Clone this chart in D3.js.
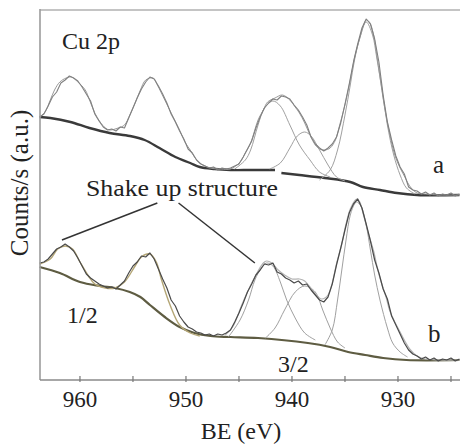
<!DOCTYPE html>
<html><head><meta charset="utf-8">
<script src="https://cdn.jsdelivr.net/npm/d3@7/dist/d3.min.js"></script>
<style>body{margin:0;background:#fff}svg{display:block}text{font-family:"Liberation Serif","Times New Roman",serif;fill:#222}</style>
</head><body><svg id="c" width="460" height="445"></svg>
<script>
// ---- data: [binding energy (eV), counts (a.u.)] ----
const xTicksMajor = [960, 950, 940, 930];
const xTicksMinor = [955, 945, 935, 925];

const rawA = [[963.8,263],[963.4,266],[963.0,274],[962.6,283],[962.2,288],[961.8,297],[961.4,300],[961.0,304],[960.6,302],[960.2,299],[959.8,293],[959.4,286],[959.0,279],[958.6,266],[958.2,259],[957.8,253],[957.4,250],[957.0,251],[956.6,249],[956.2,253],[955.8,252],[955.4,262],[955.0,272],[954.6,282],[954.2,291],[953.8,298],[953.4,303],[953.0,301],[952.6,294],[952.2,286],[951.8,277],[951.4,266],[951.0,258],[950.6,249],[950.2,241],[949.8,231],[949.4,227],[949.0,220],[948.6,216],[948.2,214],[947.8,212],[947.4,213],[947.0,210],[946.6,212],[946.2,211],[945.8,212],[945.4,214],[945.0,216],[944.6,223],[944.2,231],[943.8,239],[943.4,252],[943.0,263],[942.6,272],[942.2,277],[941.8,281],[941.4,280],[941.0,284],[940.6,283],[940.2,281],[939.8,275],[939.4,270],[939.0,263],[938.6,255],[938.2,243],[937.8,236],[937.4,232],[937.0,229],[936.6,232],[936.2,236],[935.8,243],[935.4,257],[935.0,276],[934.6,296],[934.2,318],[933.8,336],[933.4,352],[933.0,361],[932.6,356],[932.2,341],[931.8,318],[931.4,285],[931.0,258],[930.6,240],[930.2,224],[929.8,213],[929.4,206],[929.0,193],[928.6,190],[928.2,189],[927.8,186],[927.4,188],[927.0,185],[926.6,187],[926.2,184],[925.8,186],[925.4,185],[925.0,187],[924.6,184],[924.2,186]];
const envA = [[963.8,263],[963.3,268],[962.8,280],[962.4,290],[961.9,298],[961.3,302],[960.8,303],[960.2,298],[959.5,290],[959.1,280],[958.6,267],[958.1,258],[957.6,252],[957.2,250],[956.4,252],[955.8,255],[955.3,265],[954.8,277],[954.3,290],[953.8,300],[953.1,302],[952.7,295],[952.0,280],[951.3,265],[950.6,250],[950.1,238],[949.6,230],[949.2,223],[948.7,217],[947.7,212],[946.7,211],[945.8,211],[944.9,218],[944.4,227],[943.9,237],[943.2,260],[942.7,270],[942.3,278],[941.6,282],[940.9,285],[940.2,280],[939.7,273],[939.3,267],[938.8,257],[938.3,245],[937.8,235],[937.4,231],[936.9,230],[936.4,232],[935.9,240],[935.5,255],[935.0,275],[934.5,300],[934.1,322],[933.6,342],[933.2,356],[933.0,360],[932.7,358],[932.3,345],[932.0,325],[931.7,303],[931.3,275],[930.8,247],[930.3,225],[929.8,212],[929.3,202],[928.9,194],[928.2,187],[927.4,186],[926.0,185],[924.2,185]];
const bgA1 = [[963.8,263],[962.8,262],[960.9,258],[959.1,252],[957.2,247],[955.3,244],[953.9,240],[952.5,232],[951.0,223],[949.6,217],[948.7,213],[947.3,211],[945.8,210],[943.9,210],[941.6,210]];
const bgA2 = [[941.0,207],[939.3,205],[936.9,202],[934.5,198],[933.3,193],[931.7,190],[930.1,187],[928.2,185],[924.2,185]];
const compA1 = [[945.4,211],[944.4,220],[943.9,230],[943.2,255],[942.6,272],[941.8,279],[941.1,274],[940.2,255],[939.3,235],[938.3,220],[937.4,208],[936.4,203]];
const compA2 = [[942.1,211],[941.1,217],[940.2,232],[939.5,244],[938.8,248],[938.2,244],[937.4,230],[936.6,215],[935.8,203],[935.0,199]];
const compA3 = [[937.4,200],[936.4,210],[935.7,230],[935.0,265],[934.5,295],[934.1,320],[933.6,342],[933.0,358],[932.4,345],[932.0,322],[931.5,290],[931.0,255],[930.4,225],[929.8,205],[929.2,192],[928.4,186]];

const rawB = [[963.8,117],[963.4,118],[963.0,121],[962.6,126],[962.2,131],[961.8,133],[961.4,136],[961.0,133],[960.6,129],[960.2,122],[959.8,114],[959.4,106],[959.0,102],[958.6,99],[958.2,96],[957.8,94],[957.4,92],[957.0,93],[956.6,91],[956.2,95],[955.8,99],[955.4,107],[955.0,114],[954.6,118],[954.2,124],[953.8,123],[953.4,127],[953.0,121],[952.6,111],[952.2,101],[951.8,92],[951.4,80],[951.0,74],[950.6,64],[950.2,58],[949.8,53],[949.4,51],[949.0,48],[948.6,47],[948.2,45],[947.8,46],[947.4,44],[947.0,46],[946.6,45],[946.2,47],[945.8,50],[945.4,58],[945.0,67],[944.6,77],[944.2,88],[943.8,96],[943.4,105],[943.0,110],[942.6,116],[942.2,115],[941.8,117],[941.4,108],[941.0,106],[940.6,102],[940.2,100],[939.8,97],[939.4,99],[939.0,95],[938.6,96],[938.2,90],[937.8,85],[937.4,80],[937.0,78],[936.6,83],[936.2,96],[935.8,115],[935.4,132],[935.0,150],[934.6,167],[934.2,176],[933.8,181],[933.4,172],[933.0,156],[932.6,139],[932.2,120],[931.8,107],[931.4,91],[931.0,81],[930.6,64],[930.2,55],[929.8,46],[929.4,37],[929.0,30],[928.6,26],[928.2,24],[927.8,21],[927.4,23],[927.0,20],[926.6,22],[926.2,19],[925.8,21],[925.4,20],[925.0,22],[924.6,19],[924.2,21]];
const envB12 = [[963.8,116],[962.8,121],[962.1,131],[961.4,134],[960.7,131],[960.0,118],[959.2,104],[958.6,96],[957.6,92],[956.7,92],[955.8,98],[954.8,114],[954.2,123],[953.4,126],[952.8,118],[952.3,100],[951.5,75],[950.6,55],[949.6,47],[948.7,44]];
const envB32 = [[946.3,45],[945.6,53],[944.7,76],[944.2,88],[943.7,99],[943.2,109],[942.7,117],[942.4,119],[941.9,117],[941.3,110],[940.7,105],[940.0,101],[939.3,101],[938.8,99],[938.3,93],[937.8,86],[937.2,81],[936.6,85],[936.2,97],[935.8,116],[935.3,136],[934.9,156],[934.5,171],[934.1,179],[933.9,181],[933.6,178],[933.3,167],[932.8,147],[932.3,129],[931.9,110],[931.5,95],[931.1,82],[930.8,70],[930.3,58],[929.8,48],[929.3,38],[928.9,31],[928.2,24],[927.4,21],[926.0,20],[924.2,20]];
const bgB = [[963.8,113],[961.9,107],[960.0,98],[958.1,94],[956.7,92],[955.3,88],[954.3,83],[953.4,75],[952.0,63],[950.6,53],[949.2,47],[947.7,44],[945.8,43],[943.2,42],[938.5,37],[936.4,33],[934.7,28],[933.1,25],[931.4,22],[929.2,20],[924.2,20]];
const compB1 = [[946.0,43],[944.9,60],[944.1,80],[943.5,100],[942.9,112],[942.4,117],[941.8,114],[941.1,98],[940.5,80],[939.7,62],[938.8,47],[937.8,40]];
const compB2 = [[942.5,42],[941.6,52],[940.7,70],[939.7,88],[938.8,94],[937.8,88],[937.1,70],[936.4,52],[935.7,38],[935.0,32]];
const compB3 = [[936.9,35],[936.2,50],[935.7,80],[935.3,110],[934.9,140],[934.5,165],[934.1,176],[933.9,178],[933.5,174],[933.0,155],[932.6,130],[932.2,105],[931.7,80],[931.0,52],[930.5,37],[929.8,28],[929.1,23]];

// annotation leader lines (data coords)
const leaders = [[[952.7,177],[961.7,140]], [[950.7,177],[943.5,117]]];

// ---- drawing ----
const svg = d3.select("#c");
const x = d3.scaleLinear().domain([963.77, 924.15]).range([40, 460]);
const y = d3.scaleLinear().domain([0, 370]).range([380, 10]);
const smooth = d3.line().x(d=>x(d[0])).y(d=>y(d[1])).curve(d3.curveCatmullRom.alpha(0.5));
const lin = d3.line().x(d=>x(d[0])).y(d=>y(d[1]));

function path(data, gen, color, w){
  svg.append("path").attr("d", gen(data)).attr("fill","none")
     .attr("stroke", color).attr("stroke-width", w).attr("stroke-linejoin","round");
}
// backgrounds
path(bgA1, smooth, "#3a3a3a", 2.4);
path(bgA2, smooth, "#3a3a3a", 2.4);
path(bgB, smooth, "#5e5c42", 2.2);
// components
[compA1, compA2, compA3, compB1, compB2, compB3].forEach(c => path(c, smooth, "#a0a0a0", 1.0));
// envelopes
path(envA, smooth, "#9a9a9a", 1.0);
path(envB12, smooth, "#b4a676", 1.4);
path(envB32, smooth, "#b4b4b4", 1.2);
// raw
path(rawA, lin, "#808080", 1.1);
path(rawB, lin, "#4a4a4a", 1.2);

// leader lines
leaders.forEach(l => path(l, lin, "#333", 1.5));

// frame
svg.append("line").attr("x1",40).attr("x2",460).attr("y1",10).attr("y2",10).attr("stroke","#c4c4c4").attr("stroke-width",2);
svg.append("line").attr("x1",40).attr("x2",40).attr("y1",9).attr("y2",380).attr("stroke","#9c9c9c").attr("stroke-width",1.6);
const axis = d3.axisBottom(x).tickValues(xTicksMajor.concat(xTicksMinor)).tickSize(0).tickFormat("");
const g = svg.append("g").attr("transform","translate(0,380)").call(axis);
g.select(".domain").attr("stroke","#8a8a8a").attr("stroke-width",1.4).attr("d","M40,0H460");
xTicksMajor.concat(xTicksMinor).forEach(t=>{
  svg.append("line").attr("x1",x(t)).attr("x2",x(t)).attr("y1",376).attr("y2",382).attr("stroke","#777").attr("stroke-width",1.2);
});
xTicksMajor.forEach(t=>{
  svg.append("text").attr("x",x(t)).attr("y",407).attr("text-anchor","middle").attr("font-size",23).text(t);
});

// texts
svg.append("text").attr("x",241).attr("y",439).attr("text-anchor","middle").attr("font-size",24).text("BE (eV)");
svg.append("text").attr("transform","translate(28,183) rotate(-90)").attr("text-anchor","middle").attr("font-size",25).text("Counts/s (a.u.)");
svg.append("text").attr("x",62).attr("y",49).attr("font-size",24).text("Cu 2p");
svg.append("text").attr("x",86).attr("y",196).attr("font-size",24).attr("textLength",192).attr("lengthAdjust","spacingAndGlyphs").text("Shake up structure");
svg.append("text").attr("x",433).attr("y",173).attr("font-size",25).text("a");
svg.append("text").attr("x",428).attr("y",342).attr("font-size",25).text("b");
svg.append("text").attr("x",67).attr("y",323).attr("font-size",24).text("1/2");
svg.append("text").attr("x",278).attr("y",372).attr("font-size",24).text("3/2");
</script></body></html>
